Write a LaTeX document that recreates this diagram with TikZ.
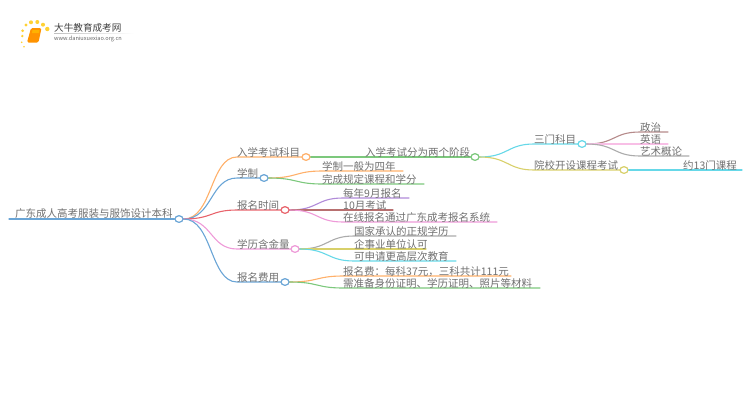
\documentclass[tikz,border=0pt]{standalone}
\usepackage{fontspec}
\setmainfont{Noto Sans CJK SC}
\usepackage{tikz}
\usetikzlibrary{shapes.geometric}
\definecolor{cblue}{HTML}{6AA5D6}
\definecolor{corange}{HTML}{FFB06A}
\definecolor{cred}{HTML}{E8636B}
\definecolor{cpink}{HTML}{EE9AD8}
\definecolor{cgreen}{HTML}{7CC87C}
\definecolor{ccyan}{HTML}{66D8E8}
\definecolor{colive}{HTML}{D8D06A}
\definecolor{cpurple}{HTML}{B08AD8}
\definecolor{cbrown}{HTML}{B58A8A}
\definecolor{cbrick}{HTML}{B87070}
\definecolor{cgray}{HTML}{ABABAB}
\definecolor{clpink}{HTML}{F8BFE6}
\definecolor{txtc}{HTML}{707070}
\tikzset{
  lbl/.style={inner sep=0pt,anchor=base west,text=txtc,font=\fontsize{10.5}{10.5}\selectfont},
  dotn/.style={ellipse,draw=#1,fill=white,line width=1.1pt,minimum width=8pt,minimum height=6.5pt,inner sep=0pt},
  lnk/.style={draw=#1,line width=1.1pt,line cap=round},
  sun/.style={fill=#1,draw=none,circle,inner sep=0pt}
}
\newcommand{\crv}[4]{\draw[lnk=#1] (#2) .. controls ++(29,0) and ++(-27,0) .. (#3) -- (#4);}
\begin{document}
\begin{tikzpicture}[x=1pt,y=-1pt]
\useasboundingbox (0,0) rectangle (750,410);
% logo
\fill[orange!85!yellow,rounded corners=1.5pt] (31,28) -- (41.5,28) -- (38.5,42.5) -- (27,42.5) -- cycle;
\fill[orange!60!yellow] (32.5,30) -- (39.5,30) -- (39,33) -- (32,33) -- cycle;
\foreach \px/\py/\r in {22.3/36/1.3,22.7/30.7/1.5,26/25/1.7,31/22.3/2,37.3/22/2,43/24.7/2,47.3/29/2.2,21.7/42.3/0.9,24/46.7/0.9}
  \node[sun=orange!45!yellow!80!white,minimum size=2*\r pt] at (\px,\py) {};
\node[inner sep=0pt,anchor=base west,text=black!75,font=\fontsize{9.6}{10}\selectfont] (logot) at (54,31) {大牛教育成考网};
\node[inner sep=0pt,anchor=base west,text=black!60,font=\fontsize{5.6}{6}\selectfont] (logou) at (54,40.5) {www.daniuxuexiao.org.cn};
\shade[left color=black!25,right color=white] (54,33) rectangle (134,33.6);
% dots
\node[dotn=cblue] (root) at (179,219) {};
\node[dotn=corange] (a) at (306,157) {};
\node[dotn=cblue] (b) at (264,178) {};
\node[dotn=cred] (c) at (285,210) {};
\node[dotn=cpink] (d) at (295,249) {};
\node[dotn=cblue] (e) at (285,282) {};
\node[dotn=cgreen] (a1) at (475,157) {};
\node[dotn=ccyan] (s) at (582,144) {};
\node[dotn=colive] (y) at (624,170) {};
% coordinates
\coordinate (r0) at (9,219);
\foreach \n/\px/\py in {ra/237/157,rb/237/178,rc/237/210,rd/237/249,re/237/282,
  b1s/322/171,b1e/403/171,b2s/322/184,b2e/424/184,
  c1s/343/198,c1e/409/198,c2s/343/210,c2e/393/210,c3s/343/222,c3e/497/222,
  d1s/354/236,d1e/456/236,d2s/354/249,d2e/426/249,d3s/354/261,d3e/456/261,
  e1s/343/276,e1e/511/276,e2s/343/288,e2e/540/288,
  ss/534/144,ys/534/170,s1s/640/132,s1e/668/132,s2s/640/144,s2e/668/144,s3s/640/156,s3e/689/156,
  ye/742/170}
  \coordinate (\n) at (\px,\py);
% connectors
\draw[lnk=cblue] (r0) -- (root);
\crv{corange}{root.east}{ra}{a}
\crv{cblue}{root.east}{rb}{b}
\crv{cred}{root.east}{rc}{c}
\crv{cpink}{root.east}{rd}{d}
\crv{cblue}{root.east}{re}{e}
\draw[lnk=cgreen] (a) -- (a1);
\crv{corange}{b.east}{b1s}{b1e}
\crv{cgreen}{b.east}{b2s}{b2e}
\crv{cpurple}{c.east}{c1s}{c1e}
\crv{cbrick}{c.east}{c2s}{c2e}
\crv{cpink}{c.east}{c3s}{c3e}
\crv{cgray}{d.east}{d1s}{d1e}
\crv{colive}{d.east}{d2s}{d2e}
\crv{ccyan}{d.east}{d3s}{d3e}
\crv{corange}{e.east}{e1s}{e1e}
\crv{cgreen}{e.east}{e2s}{e2e}
\crv{ccyan}{a1.east}{ss}{s}
\crv{colive}{a1.east}{ys}{y}
\crv{cbrown}{s.east}{s1s}{s1e}
\crv{clpink}{s.east}{s2s}{s2e}
\crv{cgray}{s.east}{s3s}{s3e}
\draw[lnk=ccyan] (y) -- (ye);
% redraw dots on top
\foreach \n/\col in {root/cblue,a/corange,b/cblue,c/cred,d/cpink,e/cblue,a1/cgreen,s/ccyan,y/colive}
  \node[dotn=\col] at (\n) {};
% labels
\node[lbl] (t0) at (15,217.5) {广东成人高考服装与服饰设计本科};
\node[lbl] (ta) at (237,156) {入学考试科目};
\node[lbl] (tb) at (237,177) {学制};
\node[lbl] (tc) at (237,209) {报名时间};
\node[lbl] (td) at (237,248) {学历含金量};
\node[lbl] (te) at (237,281) {报名费用};
\node[lbl] (ta1) at (365,156) {入学考试分为两个阶段};
\node[lbl] (tb1) at (322,170) {学制一般为四年};
\node[lbl] (tb2) at (322,183) {完成规定课程和学分};
\node[lbl] (tc1) at (343,197) {每年9月报名};
\node[lbl] (tc2) at (343,209) {10月考试};
\node[lbl] (tc3) at (343,221) {在线报名通过广东成考报名系统};
\node[lbl] (td1) at (354,235) {国家承认的正规学历};
\node[lbl] (td2) at (354,248) {企事业单位认可};
\node[lbl] (td3) at (354,260) {可申请更高层次教育};
\node[lbl] (te1) at (343,275) {报名费：每科37元，三科共计111元};
\node[lbl] (te2) at (343,287) {需准备身份证明、学历证明、照片等材料};
\node[lbl] (ts) at (534,143) {三门科目};
\node[lbl] (ty) at (534,169) {院校开设课程考试};
\node[lbl] (ts1) at (640,131) {政治};
\node[lbl] (ts2) at (640,143) {英语};
\node[lbl] (ts3) at (640,155) {艺术概论};
\node[lbl] (ty1) at (683,169) {约13门课程};
\end{tikzpicture}
\end{document}
